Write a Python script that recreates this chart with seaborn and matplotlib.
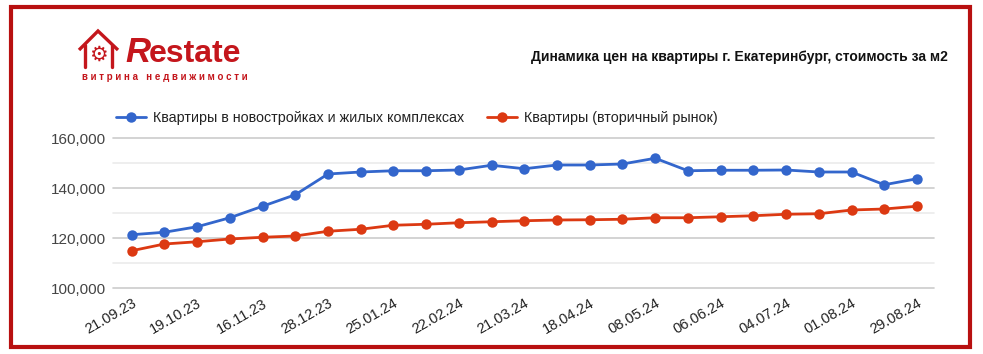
import matplotlib
matplotlib.use("Agg")
import matplotlib.pyplot as plt
import matplotlib.patches as mpatches
import matplotlib.transforms as mtransforms
import pandas as pd
import seaborn as sns

# Data (price per m2, RUB)
tick_labels = ["21.09.23", "19.10.23", "16.11.23", "28.12.23", "25.01.24", "22.02.24", "21.03.24",
               "18.04.24", "08.05.24", "06.06.24", "04.07.24", "01.08.24", "29.08.24"]
new_build = [121300, 122300, 124500, 128100, 132700, 137300, 145600, 146400, 146900, 146900,
             147200, 149100, 147700, 149200, 149200, 149600, 151900, 146900, 147100, 147100,
             147200, 146400, 146400, 141300, 143700]
secondary = [114900, 117600, 118500, 119600, 120300, 120800, 122700, 123500, 125100, 125500,
             126100, 126500, 126900, 127200, 127300, 127500, 128100, 128100, 128500, 128900,
             129500, 129700, 131200, 131600, 132700]
series_names = ["Квартиры в новостройках и жилых комплексах", "Квартиры (вторичный рынок)"]
series_colors = ["#3366cc", "#dc3912"]

n = len(new_build)
df = pd.DataFrame({
    "idx": list(range(n)) * 2,
    "value": new_build + secondary,
    "series": [series_names[0]] * n + [series_names[1]] * n,
})

sns.set_theme(style="white")
plt.rcParams["font.family"] = ["Liberation Sans", "DejaVu Sans"]

fig = plt.figure(figsize=(9.83, 3.54), dpi=100)
ax = fig.add_axes([113 / 983, 1 - 288 / 354, (934 - 113) / 983, (288 - 138) / 354])

# gridlines
for v in [110000, 130000, 150000]:
    ax.axhline(v, color="#ebebeb", lw=1.2, zorder=0)
for v in [100000, 120000, 140000, 160000]:
    ax.axhline(v, color="#cccccc", lw=1.2, zorder=0)

sns.lineplot(data=df, x="idx", y="value", hue="series", palette=series_colors,
             marker="o", markersize=7.5, markeredgewidth=0, linewidth=2.0, ax=ax, legend=False)
for ln in ax.lines:
    ln.set_clip_on(False)

ax.set_xlim(-0.57, 24.52)
ax.set_ylim(100000, 160000)
yt = [100000, 120000, 140000, 160000]
ax.set_yticks(yt)
ax.set_yticklabels([f"{v:,}" for v in yt], color="#444444", fontsize=11)
ax.set_xticks(list(range(0, n, 2)))
ax.set_xticklabels(tick_labels, rotation=30, ha="right", rotation_mode="anchor",
                   color="#222222", fontsize=10.5)
shift = mtransforms.ScaledTranslation(-4 / 100, 0, fig.dpi_scale_trans)
for lab in ax.get_xticklabels():
    lab.set_transform(lab.get_transform() + shift)
ax.tick_params(axis="y", length=0, pad=5)
ax.tick_params(axis="x", length=0, pad=6)
ax.set_xlabel("")
ax.set_ylabel("")
for s in ax.spines.values():
    s.set_visible(False)

# legend
handles = [plt.Line2D([], [], color=c, lw=2.0, marker="o", markersize=7.5, markeredgewidth=0)
           for c in series_colors]
fig.legend(handles, series_names, loc="center left", bbox_to_anchor=(103 / 983, 1 - 118 / 354),
           ncol=2, frameon=False, fontsize=10.3, handlelength=2.1, handletextpad=0.5,
           columnspacing=1.6, labelcolor="#222222")

# title
fig.text(948 / 983, 1 - 57 / 354, "Динамика цен на квартиры г. Екатеринбург, стоимость за м2",
         ha="right", va="center", fontsize=10, fontweight="bold", color="#111111")

# logo
logo_red = "#c4161c"
house = mpatches.Polygon([(79 / 983, 1 - 50 / 354), (98 / 983, 1 - 31 / 354), (118 / 983, 1 - 50 / 354)],
                         closed=False, fill=False, ec=logo_red, lw=2.4, transform=fig.transFigure)
fig.patches.append(house)
for x0 in [85, 112]:
    fig.add_artist(plt.Line2D([x0 / 983, x0 / 983], [1 - 45 / 354, 1 - 67 / 354], color=logo_red, lw=2.4))
fig.text(98 / 983, 1 - 55 / 354, "⚙", ha="center", va="center", fontsize=15, color=logo_red,
         family=["DejaVu Sans"])
fig.text(125 / 983, 1 - 53 / 354, "R", ha="left", va="center", fontsize=25, fontweight="bold",
         style="italic", color=logo_red)
fig.text(149 / 983, 1 - 54 / 354, "estate", ha="left", va="center", fontsize=23, fontweight="bold",
         color=logo_red)
fig.text(165 / 983, 1 - 77 / 354, "в и т р и н а   н е д в и ж и м о с т и", ha="center", va="center",
         fontsize=7, fontweight="bold", color=logo_red)

# red frame
frame = mpatches.Rectangle((11 / 983, 1 - 347 / 354), (970 - 11) / 983, (347 - 7) / 354,
                           fill=False, ec="#b81010", lw=3.0, transform=fig.transFigure)
fig.patches.append(frame)

fig.savefig("out.png", dpi=100, facecolor="white")
